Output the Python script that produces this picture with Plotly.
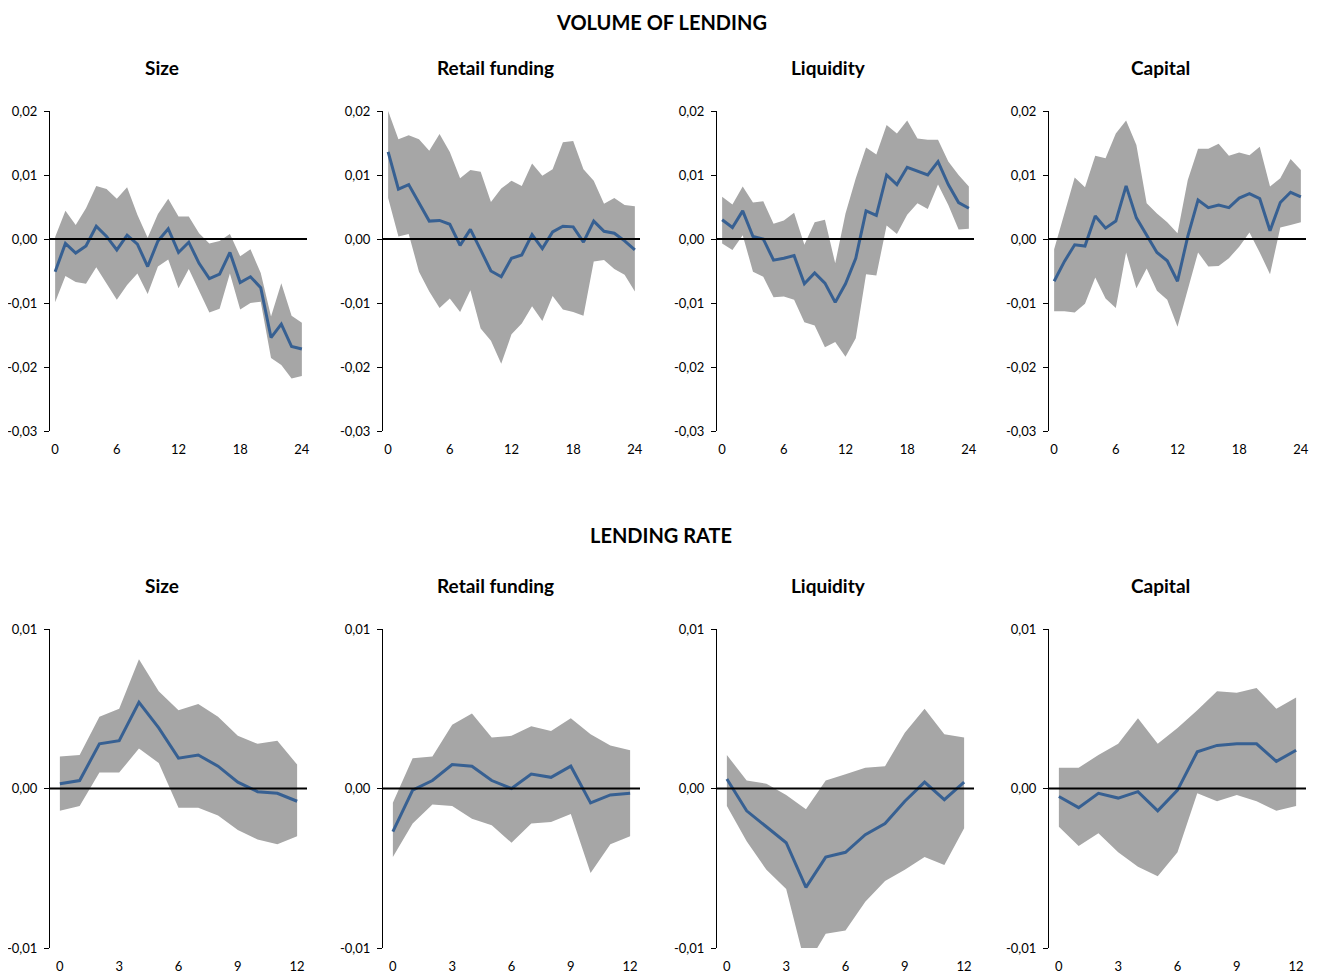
import plotly.graph_objects as go
from plotly.subplots import make_subplots

# horizons (months)
h_vol = list(range(25))
h_rate = list(range(13))

panel_names = ['Size', 'Retail funding', 'Liquidity', 'Capital']

# VOLUME OF LENDING - impulse responses and bands
vol_size_mid = [-0.0051, -0.0007, -0.0022, -0.0011, 0.0020, 0.0004, -0.0017, 0.0006, -0.0008, -0.0043, -0.0003, 0.0016, -0.0021,
                -0.0005, -0.0038, -0.0062, -0.0055, -0.0021, -0.0068, -0.0059, -0.0076, -0.0154, -0.0133, -0.0168, -0.0172]
vol_size_hi = [0.0003, 0.0044, 0.0022, 0.0048, 0.0083, 0.0078, 0.0063, 0.0081, 0.0038, 0.0002, 0.0039, 0.0063, 0.0035,
               0.0035, 0.0009, -0.0007, -0.0003, 0.0008, -0.0027, -0.0016, -0.0053, -0.0121, -0.0069, -0.0120, -0.0131]
vol_size_lo = [-0.0099, -0.0058, -0.0067, -0.0070, -0.0044, -0.0069, -0.0095, -0.0072, -0.0054, -0.0086, -0.0043, -0.0032, -0.0077,
               -0.0047, -0.0082, -0.0115, -0.0109, -0.0054, -0.0110, -0.0100, -0.0098, -0.0186, -0.0197, -0.0218, -0.0214]

vol_retail_mid = [0.0136, 0.0078, 0.0085, 0.0056, 0.0028, 0.0029, 0.0023, -0.0010, 0.0015, -0.0017, -0.0050, -0.0059, -0.0030,
                  -0.0025, 0.0007, -0.0015, 0.0011, 0.0020, 0.0019, -0.0005, 0.0028, 0.0012, 0.0009, -0.0003, -0.0017]
vol_retail_hi = [0.0200, 0.0156, 0.0162, 0.0156, 0.0138, 0.0164, 0.0136, 0.0095, 0.0108, 0.0105, 0.0058, 0.0079, 0.0091,
                 0.0083, 0.0118, 0.0099, 0.0109, 0.0151, 0.0153, 0.0109, 0.0091, 0.0055, 0.0064, 0.0053, 0.0051]
vol_retail_lo = [0.0064, 0.0004, 0.0008, -0.0051, -0.0082, -0.0108, -0.0093, -0.0114, -0.0080, -0.0140, -0.0159, -0.0195, -0.0149,
                 -0.0132, -0.0105, -0.0128, -0.0089, -0.0110, -0.0114, -0.0120, -0.0035, -0.0033, -0.0047, -0.0056, -0.0082]

vol_liq_mid = [0.0030, 0.0018, 0.0044, 0.0004, 0.0000, -0.0033, -0.0030, -0.0026, -0.0070, -0.0053, -0.0069, -0.0099, -0.0070,
               -0.0030, 0.0044, 0.0037, 0.0100, 0.0085, 0.0112, 0.0106, 0.0100, 0.0121, 0.0085, 0.0057, 0.0048]
vol_liq_hi = [0.0066, 0.0054, 0.0082, 0.0057, 0.0059, 0.0024, 0.0029, 0.0041, -0.0009, 0.0026, 0.0030, -0.0038, 0.0040,
              0.0095, 0.0143, 0.0132, 0.0178, 0.0165, 0.0185, 0.0157, 0.0155, 0.0155, 0.0121, 0.0100, 0.0082]
vol_liq_lo = [-0.0007, -0.0017, 0.0006, -0.0051, -0.0059, -0.0091, -0.0090, -0.0095, -0.0130, -0.0135, -0.0169, -0.0161, -0.0184,
              -0.0155, -0.0055, -0.0057, 0.0021, 0.0008, 0.0038, 0.0056, 0.0047, 0.0085, 0.0053, 0.0015, 0.0016]

vol_cap_mid = [-0.0066, -0.0035, -0.0009, -0.0011, 0.0036, 0.0017, 0.0028, 0.0083, 0.0033, 0.0005, -0.0021, -0.0034, -0.0066,
               0.0004, 0.0061, 0.0049, 0.0053, 0.0049, 0.0064, 0.0071, 0.0063, 0.0013, 0.0057, 0.0073, 0.0066]
vol_cap_hi = [-0.0016, 0.0040, 0.0096, 0.0081, 0.0130, 0.0126, 0.0165, 0.0185, 0.0147, 0.0056, 0.0040, 0.0026, 0.0009,
              0.0092, 0.0141, 0.0141, 0.0149, 0.0130, 0.0135, 0.0131, 0.0144, 0.0082, 0.0095, 0.0125, 0.0108]
vol_cap_lo = [-0.0113, -0.0113, -0.0115, -0.0101, -0.0060, -0.0093, -0.0108, -0.0021, -0.0077, -0.0046, -0.0081, -0.0095, -0.0137,
              -0.0077, -0.0021, -0.0043, -0.0042, -0.0030, -0.0012, 0.0010, -0.0021, -0.0055, 0.0018, 0.0022, 0.0026]

# LENDING RATE - impulse responses and bands
rate_size_mid = [0.0003, 0.0005, 0.0028, 0.0030, 0.0054, 0.0038, 0.0019, 0.0021, 0.0014, 0.0004, -0.0002, -0.0003, -0.0008]
rate_size_hi = [0.0020, 0.0021, 0.0045, 0.0050, 0.0081, 0.0061, 0.0049, 0.0053, 0.0045, 0.0033, 0.0028, 0.0030, 0.0015]
rate_size_lo = [-0.0014, -0.0011, 0.0010, 0.0010, 0.0025, 0.0016, -0.0012, -0.0012, -0.0017, -0.0026, -0.0032, -0.0035, -0.0030]

rate_retail_mid = [-0.0027, -0.0001, 0.0005, 0.0015, 0.0014, 0.0005, 0.0000, 0.0009, 0.0007, 0.0014, -0.0009, -0.0004, -0.0003]
rate_retail_hi = [-0.0009, 0.0019, 0.0020, 0.0040, 0.0047, 0.0032, 0.0033, 0.0039, 0.0036, 0.0044, 0.0034, 0.0027, 0.0024]
rate_retail_lo = [-0.0043, -0.0022, -0.0010, -0.0011, -0.0019, -0.0023, -0.0034, -0.0022, -0.0021, -0.0016, -0.0053, -0.0035, -0.0030]

rate_liq_mid = [0.0006, -0.0014, -0.0024, -0.0034, -0.0062, -0.0043, -0.0040, -0.0029, -0.0022, -0.0008, 0.0004, -0.0007, 0.0004]
rate_liq_hi = [0.0021, 0.0005, 0.0003, -0.0004, -0.0013, 0.0005, 0.0009, 0.0013, 0.0014, 0.0035, 0.0050, 0.0034, 0.0032]
rate_liq_lo = [-0.0011, -0.0033, -0.0051, -0.0063, -0.0112, -0.0091, -0.0089, -0.0071, -0.0058, -0.0051, -0.0043, -0.0048, -0.0025]

rate_cap_mid = [-0.0005, -0.0012, -0.0003, -0.0006, -0.0002, -0.0014, -0.0001, 0.0023, 0.0027, 0.0028, 0.0028, 0.0017, 0.0024]
rate_cap_hi = [0.0013, 0.0013, 0.0021, 0.0028, 0.0044, 0.0028, 0.0038, 0.0049, 0.0061, 0.0060, 0.0063, 0.0050, 0.0057]
rate_cap_lo = [-0.0024, -0.0036, -0.0028, -0.0040, -0.0049, -0.0055, -0.0040, -0.0003, -0.0008, -0.0004, -0.0008, -0.0014, -0.0011]

vol_panels = [(vol_size_lo, vol_size_mid, vol_size_hi),
              (vol_retail_lo, vol_retail_mid, vol_retail_hi),
              (vol_liq_lo, vol_liq_mid, vol_liq_hi),
              (vol_cap_lo, vol_cap_mid, vol_cap_hi)]
rate_panels = [(rate_size_lo, rate_size_mid, rate_size_hi),
               (rate_retail_lo, rate_retail_mid, rate_retail_hi),
               (rate_liq_lo, rate_liq_mid, rate_liq_hi),
               (rate_cap_lo, rate_cap_mid, rate_cap_hi)]

vol_yticks = [0.02, 0.01, 0.0, -0.01, -0.02, -0.03]
vol_yticktext = ['0,02', '0,01', '0,00', '-0,01', '-0,02', '-0,03']
rate_yticks = [0.01, 0.0, -0.01]
rate_yticktext = ['0,01', '0,00', '-0,01']
vol_xticks = [0, 6, 12, 18, 24]
rate_xticks = [0, 3, 6, 9, 12]

BAND = '#A6A6A6'
LINE = '#376092'
FONT = 'Lato'
W, H = 1321, 980
OFF = 8  # page body margin, positions below are measured on the page

fig = make_subplots(rows=2, cols=4)

def add_panel(row, col, x, lo, mid, hi):
    fig.add_trace(go.Scatter(x=x, y=lo, mode='lines', line=dict(width=0, color=BAND),
                             hoverinfo='skip'), row=row, col=col)
    fig.add_trace(go.Scatter(x=x, y=hi, mode='lines', line=dict(width=0, color=BAND),
                             fill='tonexty', fillcolor=BAND, hoverinfo='skip'), row=row, col=col)
    fig.add_trace(go.Scatter(x=x, y=mid, mode='lines', line=dict(width=3, color=LINE)),
                  row=row, col=col)

for i, (lo, mid, hi) in enumerate(vol_panels):
    add_panel(1, i + 1, h_vol, lo, mid, hi)
for i, (lo, mid, hi) in enumerate(rate_panels):
    add_panel(2, i + 1, h_rate, lo, mid, hi)

# pixel layout of the plotting areas
axis_px = [50, 383, 717, 1049]
plot_w = 257
top_row = (111, 431)
bot_row = (629, 948)

def px(x):
    return (x - OFF) / W

def py(y):
    return 1 - (y - OFF) / H

for r, (rowpx, xticks, yticks, ytext, yrange, n) in enumerate([
        (top_row, vol_xticks, vol_yticks, vol_yticktext, [-0.03, 0.02], 25),
        (bot_row, rate_xticks, rate_yticks, rate_yticktext, [-0.01, 0.01], 13)]):
    for c in range(4):
        fig.update_xaxes(domain=[px(axis_px[c]), px(axis_px[c] + plot_w)],
                         range=[-0.5, n - 0.5], tickvals=xticks, showgrid=False,
                         zeroline=False, showline=False, ticks='', ticklabelstandoff=9,
                         automargin=False,
                         tickfont=dict(size=13, color='black', family=FONT),
                         row=r + 1, col=c + 1)
        fig.update_yaxes(domain=[py(rowpx[1]), py(rowpx[0])], range=yrange,
                         tickvals=yticks, ticktext=ytext,
                         showgrid=False, zeroline=False, showline=True, linecolor='black',
                         linewidth=1, ticks='outside', ticklen=5, tickcolor='black',
                         ticklabelstandoff=4, automargin=False,
                         tickfont=dict(size=13, color='black', family=FONT),
                         row=r + 1, col=c + 1)
        fig.add_hline(y=0, line=dict(color='black', width=2), layer='above',
                      row=r + 1, col=c + 1)

# titles
title_x = [162, 495, 828, 1160]
annotations = [
    dict(text='<b>VOLUME OF LENDING</b>', x=px(661), y=1, yanchor='top', font=dict(size=20)),
    dict(text='<b>LENDING RATE</b>', x=px(661), y=py(535), font=dict(size=20)),
]
for c, name in enumerate(panel_names):
    annotations.append(dict(text='<b>' + name + '</b>', x=px(title_x[c]), y=py(68), font=dict(size=19)))
    annotations.append(dict(text='<b>' + name + '</b>', x=px(title_x[c]), y=py(585), font=dict(size=19)))
for a in annotations:
    a.setdefault('yanchor', 'middle')
    a.update(xref='paper', yref='paper', showarrow=False, xanchor='center')
    a['font'].update(family=FONT, color='black')

fig.update_layout(width=W, height=H, showlegend=False, annotations=annotations,
                  margin=dict(l=0, r=0, t=0, b=0, autoexpand=False),
                  plot_bgcolor='white', paper_bgcolor='white',
                  font=dict(family=FONT, color='black'))

fig.write_html("out.html")
